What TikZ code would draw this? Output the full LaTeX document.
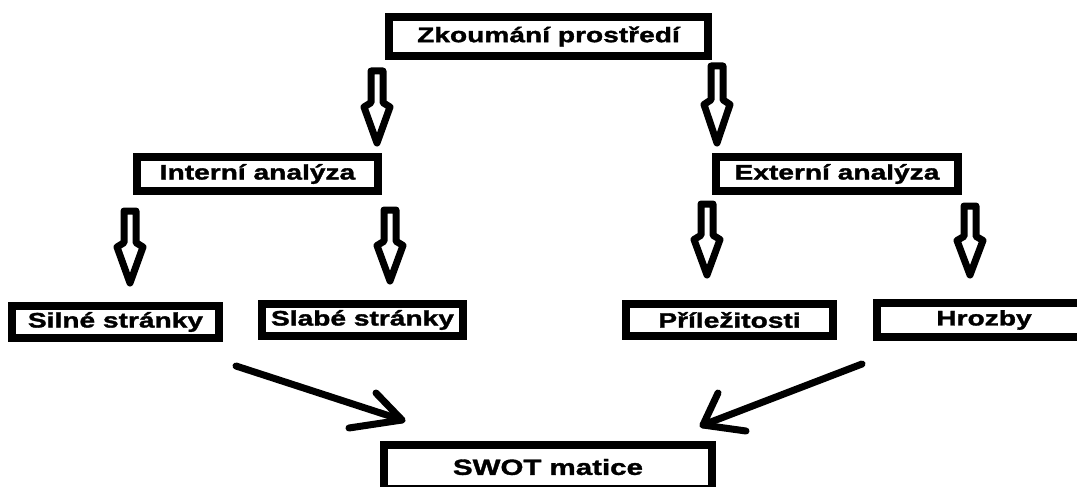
\documentclass[tikz,border=0pt]{standalone}
\usepackage{fontspec}
\newfontfamily\lbl{Liberation Sans}[FakeStretch=1.34, FakeBold=1.6]
\usetikzlibrary{calc}
\tikzset{
  box/.style={draw=black, line width=8pt, fill=white, inner sep=0pt,
    font=\lbl\bfseries\fontsize{21}{24}\selectfont, text=black},
  holarrow/.style={draw=black, fill=white, line width=7pt, line join=round},
  diag/.style={draw=black, line width=7pt, line cap=round, line join=round}
}
\newcommand\hollowarr[2]{%
  \draw[holarrow] ($(#1)+(-6,0)$) -- ($(#1)!0.44!(#2)+(-6,0)$) -- ($(#1)!0.50!(#2)+(-13,0)$)
    -- (#2) -- ($(#1)!0.50!(#2)+(13,0)$) -- ($(#1)!0.44!(#2)+(6,0)$) -- ($(#1)+(6,0)$) -- cycle;}
\begin{document}
\begin{tikzpicture}[x=1pt, y=-1pt]
\useasboundingbox[fill=white] (0,0) rectangle (1077,487);
% boxes
\node[box, minimum width=319pt, minimum height=39pt] (top) at (548.5,36.5) {Zkoumání prostředí};
\node[box, minimum width=241pt, minimum height=34pt] (int) at (257.5,174) {Interní analýza};
\node[box, minimum width=242pt, minimum height=34pt] (ext) at (837,174) {Externí analýza};
\node[box, minimum width=207pt, minimum height=32pt] (sil) at (115.5,322) {Silné stránky};
\node[box, minimum width=201pt, minimum height=32pt] (sla) at (362.5,320) {Slabé stránky};
\node[box, minimum width=207pt, minimum height=32pt] (pri) at (729.5,320) {Příležitosti};
\node[box, minimum width=214pt, minimum height=34pt] (hro) at (984,320) {Hrozby};
\node[box, minimum width=328pt, minimum height=44pt, font=\lbl\bfseries\fontsize{22}{25}\selectfont] (swot) at (548,467) {SWOT matice};
% hollow arrow end points
\coordinate (a1s) at (377,71);  \coordinate (a1e) at (377,143);
\coordinate (a2s) at (717,66);  \coordinate (a2e) at (717,143);
\coordinate (a3s) at (130,211); \coordinate (a3e) at (130,283);
\coordinate (a4s) at (390,210); \coordinate (a4e) at (390,281);
\coordinate (a5s) at (707,204); \coordinate (a5e) at (707,275);
\coordinate (a6s) at (970,206); \coordinate (a6e) at (970,275);
\hollowarr{a1s}{a1e}
\hollowarr{a2s}{a2e}
\hollowarr{a3s}{a3e}
\hollowarr{a4s}{a4e}
\hollowarr{a5s}{a5e}
\hollowarr{a6s}{a6e}
% diagonal arrows
\coordinate (ls) at (236,366); \coordinate (lt) at (402,420);
\coordinate (lh1) at (376,393); \coordinate (lh2) at (349,428);
\coordinate (rs) at (862,364); \coordinate (rt) at (703,425);
\coordinate (rh1) at (718,393); \coordinate (rh2) at (746,431);
\draw[diag] (ls) -- (lt);
\draw[diag] (lh1) -- (lt) -- (lh2);
\draw[diag] (rs) -- (rt);
\draw[diag] (rh1) -- (rt) -- (rh2);
\end{tikzpicture}
\end{document}
